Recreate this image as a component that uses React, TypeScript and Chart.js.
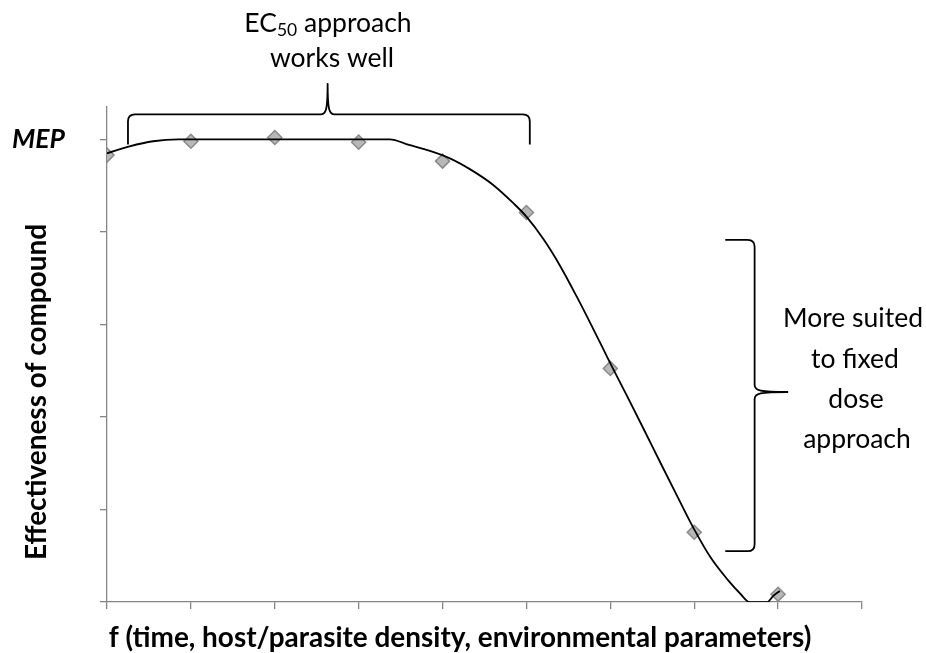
import React, { useEffect, useRef } from 'react';
import { Chart, registerables } from 'chart.js';

Chart.register(...registerables);

// Observed data points (x position on the f-axis, effectiveness as % of MEP)
const pointX = [0, 1, 2, 3, 4, 5, 6, 7, 8];
const pointY = [96.6, 99.6, 100.4, 99.4, 95.3, 84.2, 50.5, 15.1, 1.7];

// Fitted curve
const curveX = [0, 0.27, 0.55, 0.85, 1.5, 2.5, 3.37, 3.6, 3.85, 4.1, 4.35, 4.6, 4.85, 5.0, 5.2, 5.4, 5.6, 5.8, 6.0, 6.2, 6.4, 6.6, 6.8, 7.0, 7.2, 7.4, 7.55, 7.66, 7.87, 7.94, 8.02];
const curveY = [97.0, 98.5, 99.6, 100, 100, 100, 100, 98.8, 97.5, 95.8, 93.3, 90.2, 86.1, 83.3, 78.5, 72.7, 66.0, 58.9, 51.6, 44.5, 37.3, 30.0, 22.8, 15.7, 9.5, 4.8, 1.8, 0, 0, 1.3, 2.4];

// Axis settings
const xMin = 0;
const xMax = 9;
const yMin = 0;
const yMax = 107;
const yStep = 20;
const mepValue = 100;

// Texts
const mepLabel = 'MEP';
const xTitle = 'f (time, host/parasite density, environmental parameters)';
const yTitle = 'Effectiveness of compound';
const topNoteMain = 'EC';
const topNoteSub = '50';
const topNoteRest = ' approach';
const topNoteLine2 = 'works well';
const rightNoteLines = ['More suited', 'to fixed', 'dose', 'approach'];

// Bracket extents in data units
const topBracketX = [0.25, 2.63, 5.04];
const topBracketY = [98.9, 105.4, 112];
const rightBracketX = [7.37, 7.72, 8.12];
const rightBracketY = [11.0, 45.4, 78.3];

const FONT = 'Lato, "Open Sans", sans-serif';
const AXIS_GRAY = '#868686';

function fitSize(text: string, font: (s: number) => string, target: number) {
  const c = document.createElement('canvas').getContext('2d')!;
  c.font = font(100);
  const w = c.measureText(text).width;
  return (100 * target) / w;
}

export default function App() {
  const ref = useRef<HTMLCanvasElement>(null);

  useEffect(() => {
    if (!ref.current) return;
    const boldFont = (s: number) => `bold ${s}px ${FONT}`;
    const regFont = (s: number) => `${s}px ${FONT}`;
    const mepSize = fitSize(mepLabel, (s) => `italic bold ${s}px ${FONT}`, 53);
    const boldSize = fitSize(xTitle, boldFont, 703);
    const regSize = fitSize(rightNoteLines[0], regFont, 140);

    const annotations = {
      id: 'annotations',
      afterDraw(chart: any) {
        const ctx = chart.ctx as CanvasRenderingContext2D;
        const xs = chart.scales.x;
        const ys = chart.scales.y;
        ctx.save();
        ctx.fillStyle = '#000';
        ctx.strokeStyle = '#000';
        ctx.lineWidth = 1.8;
        ctx.lineJoin = 'round';

        // top bracket
        const tx0 = xs.getPixelForValue(topBracketX[0]);
        const txm = xs.getPixelForValue(topBracketX[1]);
        const tx1 = xs.getPixelForValue(topBracketX[2]);
        const tyEnd = ys.getPixelForValue(topBracketY[0]);
        const tyb = ys.getPixelForValue(topBracketY[1]);
        const tyPeak = ys.getPixelForValue(topBracketY[2]);
        const r = 7;
        ctx.beginPath();
        ctx.moveTo(tx0, tyEnd);
        ctx.lineTo(tx0, tyb + r);
        ctx.quadraticCurveTo(tx0, tyb, tx0 + r, tyb);
        ctx.lineTo(txm - 7, tyb);
        ctx.bezierCurveTo(txm - 1.5, tyb, txm, tyb - 5, txm, tyPeak);
        ctx.bezierCurveTo(txm, tyb - 5, txm + 1.5, tyb, txm + 7, tyb);
        ctx.lineTo(tx1 - r, tyb);
        ctx.quadraticCurveTo(tx1, tyb, tx1, tyb + r);
        ctx.lineTo(tx1, tyEnd);
        ctx.stroke();

        // right bracket
        const rxh = xs.getPixelForValue(rightBracketX[0]);
        const rxv = xs.getPixelForValue(rightBracketX[1]);
        const rxp = xs.getPixelForValue(rightBracketX[2]);
        const ryb = ys.getPixelForValue(rightBracketY[0]);
        const rym = ys.getPixelForValue(rightBracketY[1]);
        const ryt = ys.getPixelForValue(rightBracketY[2]);
        ctx.beginPath();
        ctx.moveTo(rxh, ryt);
        ctx.lineTo(rxv - r, ryt);
        ctx.quadraticCurveTo(rxv, ryt, rxv, ryt + r);
        ctx.lineTo(rxv, rym - 7);
        ctx.bezierCurveTo(rxv, rym - 1.5, rxv + 5, rym, rxp, rym);
        ctx.moveTo(rxp, rym);
        ctx.bezierCurveTo(rxv + 5, rym, rxv, rym + 1.5, rxv, rym + 7);
        ctx.lineTo(rxv, ryb - r);
        ctx.quadraticCurveTo(rxv, ryb, rxv - r, ryb);
        ctx.lineTo(rxh, ryb);
        ctx.stroke();

        // top note
        ctx.textBaseline = 'alphabetic';
        ctx.textAlign = 'left';
        const subSize = regSize * 0.66;
        ctx.font = regFont(regSize);
        const wMain = ctx.measureText(topNoteMain).width;
        const wRest = ctx.measureText(topNoteRest).width;
        ctx.font = regFont(subSize);
        const wSub = ctx.measureText(topNoteSub).width;
        const total = wMain + wSub + wRest;
        let cx = 328 - total / 2;
        ctx.font = regFont(regSize);
        ctx.fillText(topNoteMain, cx, 32);
        cx += wMain;
        ctx.font = regFont(subSize);
        ctx.fillText(topNoteSub, cx, 36);
        cx += wSub;
        ctx.font = regFont(regSize);
        ctx.fillText(topNoteRest, cx, 32);
        ctx.textAlign = 'center';
        ctx.fillText(topNoteLine2, 332, 67);

        // right note
        const rBase = [327, 367.5, 408, 448];
        const rCx = [853, 855, 856, 857];
        rightNoteLines.forEach((t, i) => ctx.fillText(t, rCx[i], rBase[i]));

        // axis titles
        ctx.font = boldFont(boldSize);
        ctx.fillText(xTitle, 460, 647);
        ctx.translate(46, 392);
        ctx.rotate(-Math.PI / 2);
        ctx.fillText(yTitle, 0, 0);
        ctx.restore();
      },
    };

    const chart = new Chart(ref.current, {
      type: 'scatter',
      data: {
        datasets: [
          {
            type: 'line',
            label: 'fit',
            data: curveX.map((x, i) => ({ x, y: curveY[i] })),
            borderColor: '#000',
            borderWidth: 1.8,
            pointRadius: 0,
            fill: false,
            cubicInterpolationMode: 'monotone',
            order: 0,
          } as any,
          {
            label: 'observed',
            data: pointX.map((x, i) => ({ x, y: pointY[i] })),
            pointStyle: 'rectRot',
            pointRadius: 7,
            backgroundColor: '#b8b8b8',
            borderColor: '#8a8a8a',
            borderWidth: 1.5,
            showLine: false,
            order: 1,
          } as any,
        ],
      },
      options: {
        animation: false,
        responsive: true,
        maintainAspectRatio: false,
        layout: { padding: { top: 107, right: 64, left: 0, bottom: 0 } },
        plugins: { legend: { display: false }, tooltip: { enabled: false }, title: { display: false } },
        scales: {
          x: {
            type: 'linear',
            min: xMin,
            max: xMax,
            ticks: { stepSize: 1, callback: () => '', maxRotation: 0, padding: 0 },
            grid: { display: true, drawOnChartArea: false, drawTicks: true, tickLength: 7, color: AXIS_GRAY, lineWidth: 1.3 },
            border: { display: true, color: AXIS_GRAY, width: 1.3 },
            afterFit: (s: any) => { s.height = 49; },
          },
          y: {
            type: 'linear',
            min: yMin,
            max: yMax,
            ticks: {
              stepSize: yStep,
              callback: (v: any) => (v === mepValue ? mepLabel : ''),
              color: '#000',
              font: { family: FONT, size: mepSize, weight: 'bold', style: 'italic' },
              padding: 35,
            },
            afterBuildTicks: (s: any) => { s.ticks = s.ticks.filter((t: any) => t.value <= mepValue); },
            grid: { display: true, drawOnChartArea: false, drawTicks: true, tickLength: 7, color: AXIS_GRAY, lineWidth: 1.3 },
            border: { display: true, color: AXIS_GRAY, width: 1.3 },
            afterFit: (s: any) => { s.width = 107; },
          },
        },
      },
      plugins: [annotations],
    });
    return () => chart.destroy();
  }, []);

  return (
    <div style={{ position: 'fixed', left: 0, top: 0, width: 926, height: 653, background: '#fff' }}>
      <canvas ref={ref} />
    </div>
  );
}
